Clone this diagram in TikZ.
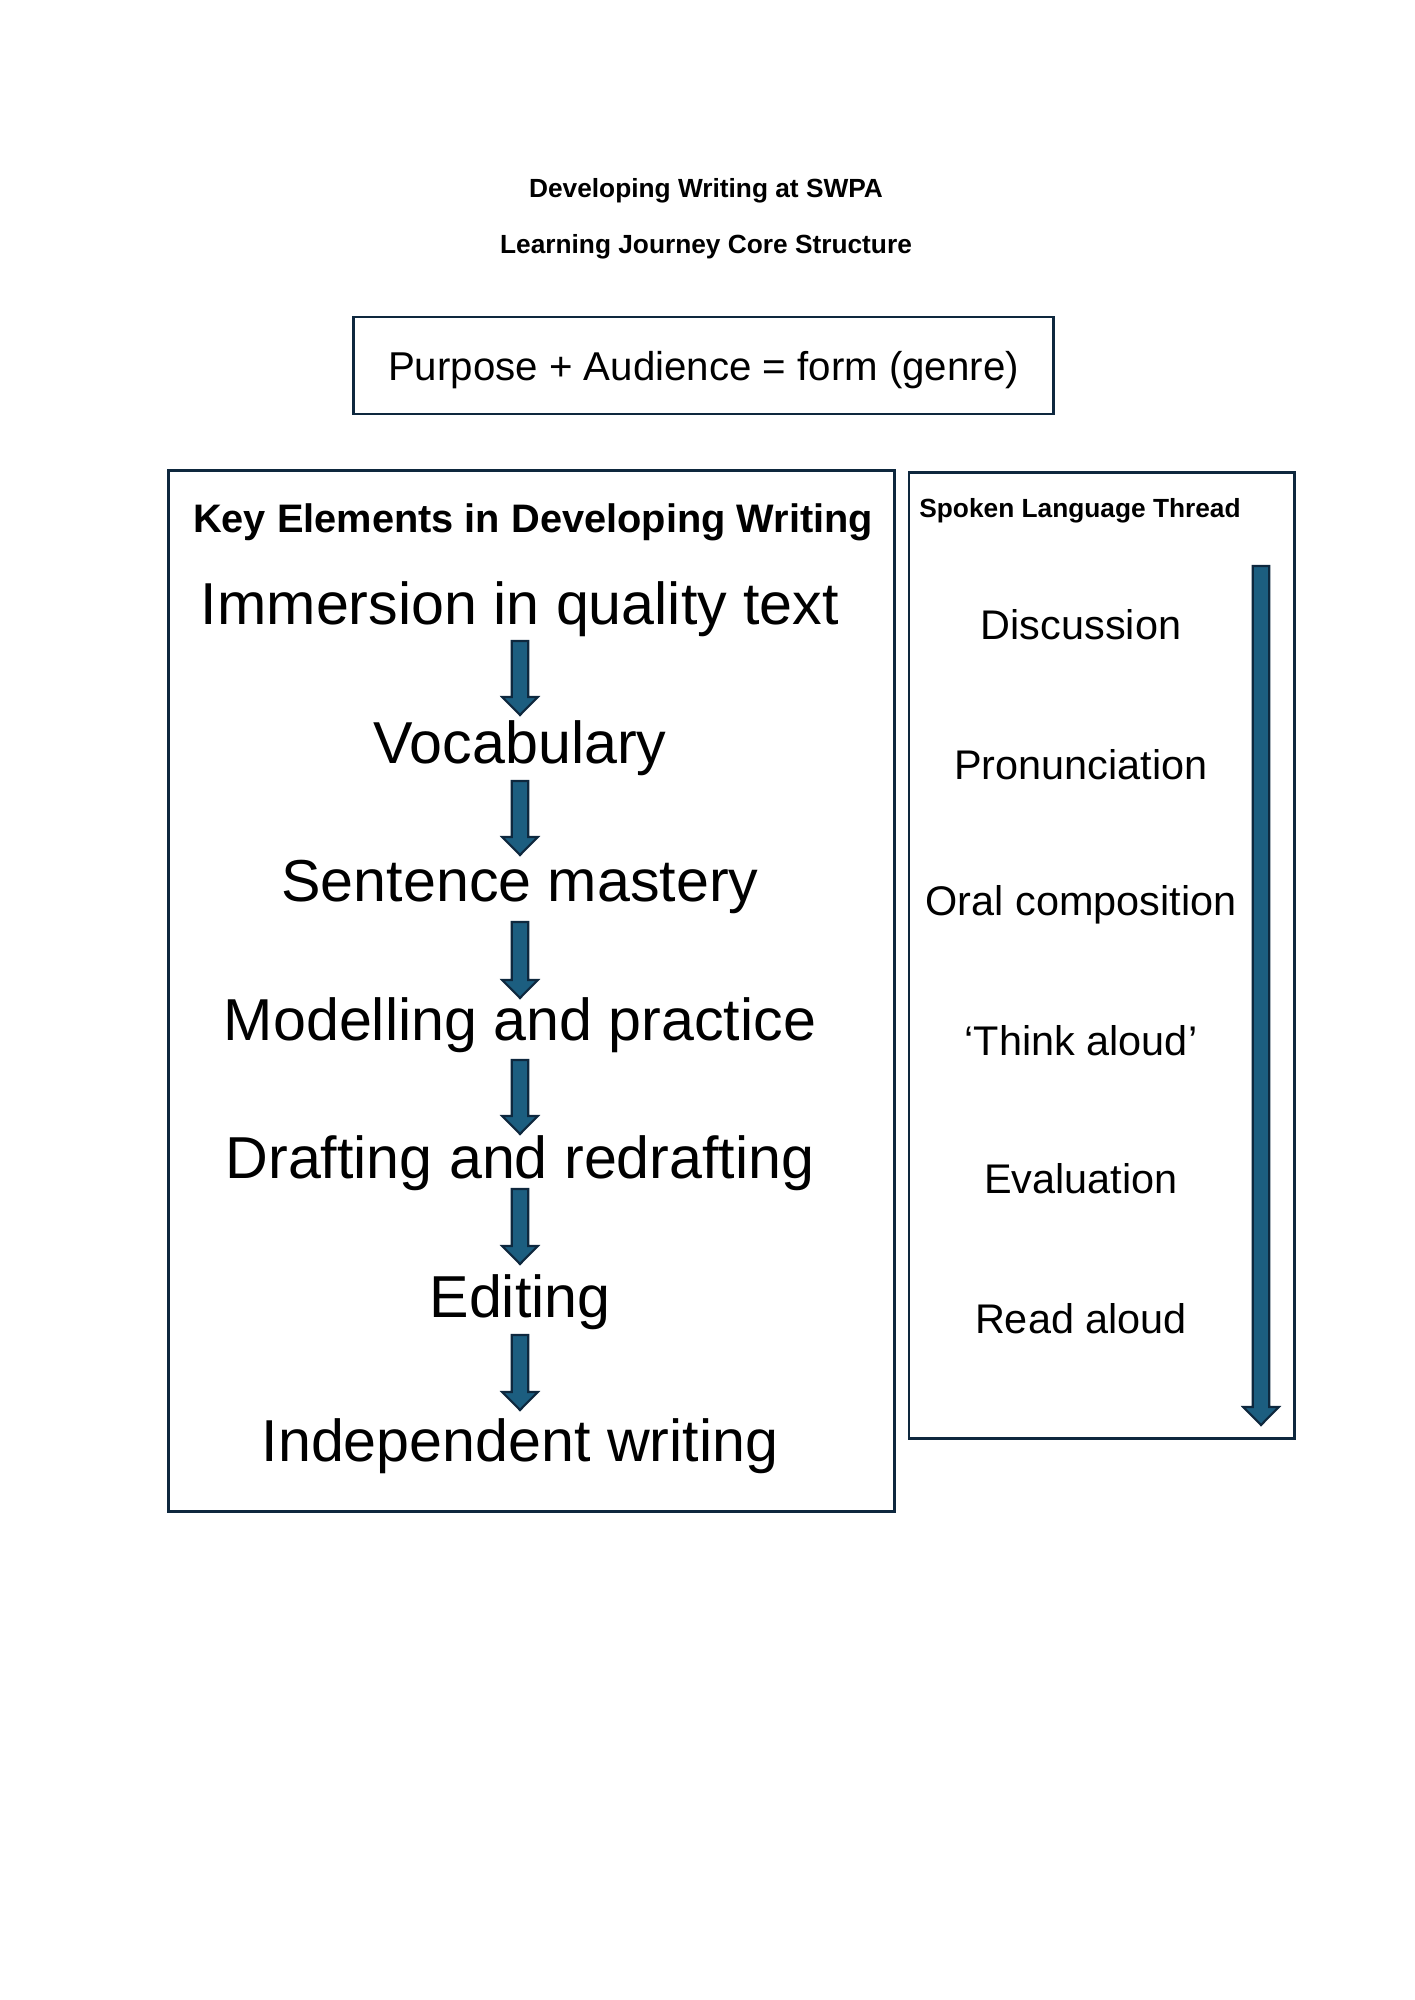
\documentclass[tikz,border=0pt]{standalone}
\usepackage{fontspec}
\setmainfont{Liberation Sans}
\usetikzlibrary{calc}
\definecolor{navy}{RGB}{14,40,62}
\definecolor{steel}{RGB}{28,94,128}

% block arrow pointing down, from #1 to the tip #2
\newcommand\blockarrow[2]{%
  \draw[blockarr] let \p1=(#1), \p2=(#2) in
    (\x1-3.5pt,\y1) -- (\x1-3.5pt,\y2+7.6pt) -- (\x1-7.5pt,\y2+7.6pt) -- (\x1,\y2)
    -- (\x1+7.5pt,\y2+7.6pt) -- (\x1+3.5pt,\y2+7.6pt) -- (\x1+3.5pt,\y1) -- cycle;}

\begin{document}
\begin{tikzpicture}[x=0.01485cm, y=-0.01485cm,
  frame/.style={draw=navy, line width=1.2pt, inner sep=0pt},
  head/.style={inner sep=0pt, font=\bfseries\fontsize{11.1}{13}\selectfont},
  lbl/.style={inner sep=0pt, font=\fontsize{25}{30}\selectfont},
  spk/.style={inner sep=0pt, font=\fontsize{17.5}{21}\selectfont},
  blockarr/.style={draw=navy, fill=steel, line width=0.9pt, line join=miter}
]
\useasboundingbox (0,0) rectangle (1414,2000);
% titles
\node[head] (title) at (706,191) {Developing Writing at SWPA};
\node[head] (sub)   at (706,247) {Learning Journey Core Structure};
\node[frame, minimum width=296pt, minimum height=41pt, text height=16.5pt, text depth=3.6pt,
      font=\fontsize{17}{20}\selectfont] (purpose) at (703.5,365.5)
      {Purpose + Audience = form (genre)};
% key elements
\node[frame, minimum width=307pt, minimum height=440pt] (keybox) at (531.5,991) {};
\node[inner sep=0pt, font=\bfseries\fontsize{16.8}{20}\selectfont] (keyhead) at (533,522)
      {Key Elements in Developing Writing};
\node[lbl] (imm)  at (520,609)  {Immersion in quality text};
\node[lbl] (voc)  at (520,748)  {Vocabulary};
\node[lbl] (sent) at (520,887)  {Sentence mastery};
\node[lbl] (mod)  at (520,1025) {Modelling and practice};
\node[lbl] (draf) at (520,1163) {Drafting and redrafting};
\node[lbl] (edit) at (520,1302) {Editing};
\node[lbl] (ind)  at (520,1446) {Independent writing};
\blockarrow{$(imm.center)+(0,32)$}{$(voc.center)+(0,-33)$}
\blockarrow{$(voc.center)+(0,33)$}{$(sent.center)+(0,-32)$}
\blockarrow{$(sent.center)+(0,35)$}{$(mod.center)+(0,-27)$}
\blockarrow{$(mod.center)+(0,35)$}{$(draf.center)+(0,-29)$}
\blockarrow{$(draf.center)+(0,26)$}{$(edit.center)+(0,-38)$}
\blockarrow{$(edit.center)+(0,33)$}{$(ind.center)+(0,-36)$}
% spoken language
\node[frame, minimum width=162.7pt, minimum height=407.8pt] (spokenbox) at (1101.5,955.5) {};
\node[head] (spkhead) at (1080,511) {Spoken Language Thread};
\node[spk] (disc) at (1081,625)  {Discussion};
\node[spk] (pron) at (1081,765)  {Pronunciation};
\node[spk] (oral) at (1081,905)  {Oral composition};
\node[spk] (think) at (1081,1041) {‘Think aloud’};
\node[spk] (eval) at (1081,1179) {Evaluation};
\node[spk] (read) at (1081,1319) {Read aloud};
\coordinate (thtop) at (1261,566);
\coordinate (thend) at (1261,1425);
\blockarrow{thtop}{thend}
\end{tikzpicture}
\end{document}
